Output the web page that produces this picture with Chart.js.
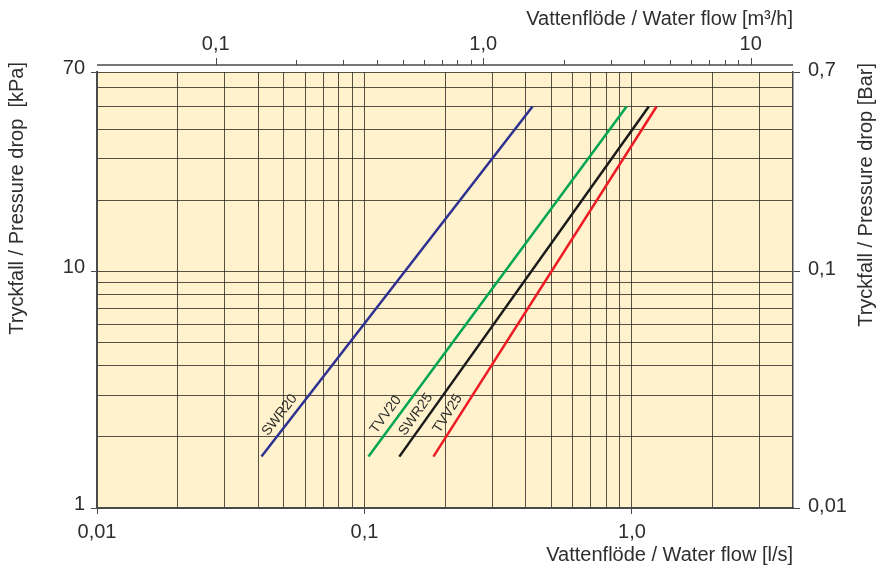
<!DOCTYPE html>
<html>
<head>
<meta charset="utf-8">
<script src="https://cdn.jsdelivr.net/npm/chart.js@4.4.1/dist/chart.umd.min.js"></script>
<style>
  html, body { margin: 0; padding: 0; background: #fff; }
</style>
</head>
<body>
<canvas id="myChart" width="880" height="568"></canvas>
<script>
// curve: portata (l/s) agli estremi, perdita di carico (kPa) comune
var seriesNames = ['SWR20', 'TVV20', 'SWR25', 'TVV25'];
var flowSWR20 = [0.0412, 0.425];
var flowTVV20 = [0.1035, 0.955];
var flowSWR25 = [0.135, 1.156];
var flowTVV25 = [0.181, 1.236];
var pressureKPa = [1.65, 50];

// tick / griglia asse x in basso (l/s)
var xTicks = [0.01, 0.02, 0.03, 0.04, 0.05, 0.06, 0.07, 0.08, 0.09,
              0.1, 0.2, 0.3, 0.4, 0.5, 0.6, 0.7, 0.8, 0.9, 1, 2, 3];
var xMajor = [0.01, 0.1, 1];
var xLabels = ['0,01', '0,1', '1,0'];

// asse x in alto (m3/h)
var topTicks = [0.1, 0.2, 0.3, 0.4, 0.5, 0.6, 0.7, 0.8, 0.9,
                1, 2, 3, 4, 5, 6, 7, 8, 9, 10];
var topMajor = [0.1, 1, 10];
var topLabels = ['0,1', '1,0', '10'];

// asse y sinistro (kPa)
var yTicks = [1, 2, 3, 4, 5, 6, 7, 8, 9, 10, 20, 30, 40, 50, 60, 70];
var yMajor = [1, 10, 70];
var yLabels = ['1', '10', '70'];

// asse y destro (bar)
var barTicks = [0.01, 0.1, 0.7];
var barLabels = ['0,01', '0,1', '0,7'];

var flows = [flowSWR20, flowTVV20, flowSWR25, flowTVV25];
var colors = ['#2e3192', '#00a651', '#1a1a1a', '#ed1c24'];

var FONT = '"Liberation Sans", Arial, sans-serif';
var textColor = '#2e2e2e';
var axisColor = '#4a4a4a';
var gridColor = 'rgba(45, 40, 35, 0.8)';

function setTicks(list, major) {
    return function (scale) {
        scale.ticks = list.map(function (v) {
            return { value: v, major: major.indexOf(v) >= 0 };
        });
    };
}
function labelFor(major, labels) {
    return function (value) {
        var i = major.indexOf(value);
        return i >= 0 ? labels[i] : '';
    };
}
function majorTickColor(ctx) {
    return ctx.tick && ctx.tick.major ? axisColor : 'rgba(0,0,0,0)';
}

var background = {
    id: 'background',
    beforeDraw: function (chart) {
        var a = chart.chartArea, c = chart.ctx;
        c.save();
        c.fillStyle = '#fff2cc';
        c.fillRect(a.left, a.top, a.right - a.left, a.bottom - a.top);
        c.restore();
    }
};

// asse superiore staccato dal grafico + titoli
var extras = {
    id: 'extras',
    afterDraw: function (chart) {
        var a = chart.chartArea, c = chart.ctx, top = chart.scales.x2;
        var yLine = a.top - 7;
        c.save();
        c.strokeStyle = axisColor;
        c.lineWidth = 1.5;
        c.beginPath();
        c.moveTo(a.left, yLine);
        c.lineTo(a.right, yLine);
        c.stroke();
        c.lineWidth = 1;
        topTicks.forEach(function (v) {
            var x = Math.round(top.getPixelForValue(v)) + 0.5;
            var len = topMajor.indexOf(v) >= 0 ? 7 : 5;
            c.beginPath();
            c.moveTo(x, yLine);
            c.lineTo(x, yLine - len);
            c.stroke();
        });

        c.fillStyle = textColor;
        c.font = '20px ' + FONT;
        c.textAlign = 'right';
        c.textBaseline = 'middle';
        c.fillText('Vattenflöde / Water flow [m³/h]', a.right, 19);
        c.fillText('Vattenflöde / Water flow [l/s]', a.right, 555);

        c.save();
        c.translate(17, a.top - 10);
        c.rotate(-Math.PI / 2);
        c.fillText('Tryckfall / Pressure drop  [kPa]', 0, 0);
        c.restore();

        c.save();
        c.translate(866, a.top - 9);
        c.rotate(-Math.PI / 2);
        c.fillText('Tryckfall / Pressure drop [Bar]', 0, 0);
        c.restore();

        // nomi delle curve lungo le linee
        c.font = '14px ' + FONT;
        c.textAlign = 'center';
        chart.data.datasets.forEach(function (ds, i) {
            var pts = chart.getDatasetMeta(i).data;
            var p0 = pts[0], p1 = pts[pts.length - 1];
            var ang = Math.atan2(p1.y - p0.y, p1.x - p0.x);
            var dx = Math.cos(ang), dy = Math.sin(ang);
            var along = 44, off = 11;
            var cx = p0.x + dx * along + dy * off;
            var cy = p0.y + dy * along - dx * off;
            c.save();
            c.translate(cx, cy);
            c.rotate(ang);
            c.fillText(ds.label, 0, 0);
            c.restore();
        });
        c.restore();
    }
};

var ctx = document.getElementById('myChart');
var myChart = new Chart(ctx, {
    type: 'line',
    data: {
        datasets: seriesNames.map(function (name, i) {
            return {
                label: name,
                data: flows[i].map(function (f, j) { return { x: f, y: pressureKPa[j] }; }),
                borderColor: colors[i],
                borderWidth: 2.5,
                pointRadius: 0,
                fill: false,
                tension: 0,
                xAxisID: 'x',
                yAxisID: 'y'
            };
        })
    },
    options: {
        responsive: false,
        animation: false,
        devicePixelRatio: 1,
        layout: { padding: 0 },
        plugins: {
            legend: { display: false },
            tooltip: { enabled: false }
        },
        scales: {
            x: {
                type: 'logarithmic',
                position: 'bottom',
                min: 0.01,
                max: 4,
                afterBuildTicks: setTicks(xTicks, xMajor),
                afterFit: function (s) { s.height = 60; },
                ticks: {
                    autoSkip: false, maxRotation: 0, padding: 6,
                    color: textColor, font: { family: FONT, size: 20 },
                    callback: labelFor(xMajor, xLabels)
                },
                grid: { color: gridColor, lineWidth: 1, tickLength: 6, tickColor: majorTickColor },
                border: { color: axisColor, width: 2 }
            },
            x2: {
                type: 'logarithmic',
                position: 'top',
                min: 0.036,
                max: 14.4,
                afterBuildTicks: setTicks(topTicks, topMajor),
                afterFit: function (s) { s.height = 72; },
                ticks: {
                    autoSkip: false, maxRotation: 0, padding: 16,
                    color: textColor, font: { family: FONT, size: 20 },
                    callback: labelFor(topMajor, topLabels)
                },
                grid: { drawOnChartArea: false, drawTicks: false },
                border: { display: false }
            },
            y: {
                type: 'logarithmic',
                position: 'left',
                min: 1,
                max: 70,
                afterBuildTicks: setTicks(yTicks, yMajor),
                afterFit: function (s) { s.width = 97; },
                ticks: {
                    autoSkip: false, padding: 6, labelOffset: -4,
                    color: textColor, font: { family: FONT, size: 20 },
                    callback: labelFor(yMajor, yLabels)
                },
                grid: { color: gridColor, lineWidth: 1, tickLength: 6, tickColor: majorTickColor },
                border: { color: axisColor, width: 2 }
            },
            y2: {
                type: 'logarithmic',
                position: 'right',
                min: 0.01,
                max: 0.7,
                afterBuildTicks: setTicks(barTicks, barTicks),
                afterFit: function (s) { s.width = 87; },
                ticks: {
                    autoSkip: false, padding: 8, labelOffset: -2,
                    color: textColor, font: { family: FONT, size: 20 },
                    callback: labelFor(barTicks, barLabels)
                },
                grid: { drawOnChartArea: false, tickLength: 7, color: axisColor },
                border: { color: axisColor, width: 1.5 }
            }
        }
    },
    plugins: [background, extras]
});
</script>
</body>
</html>
